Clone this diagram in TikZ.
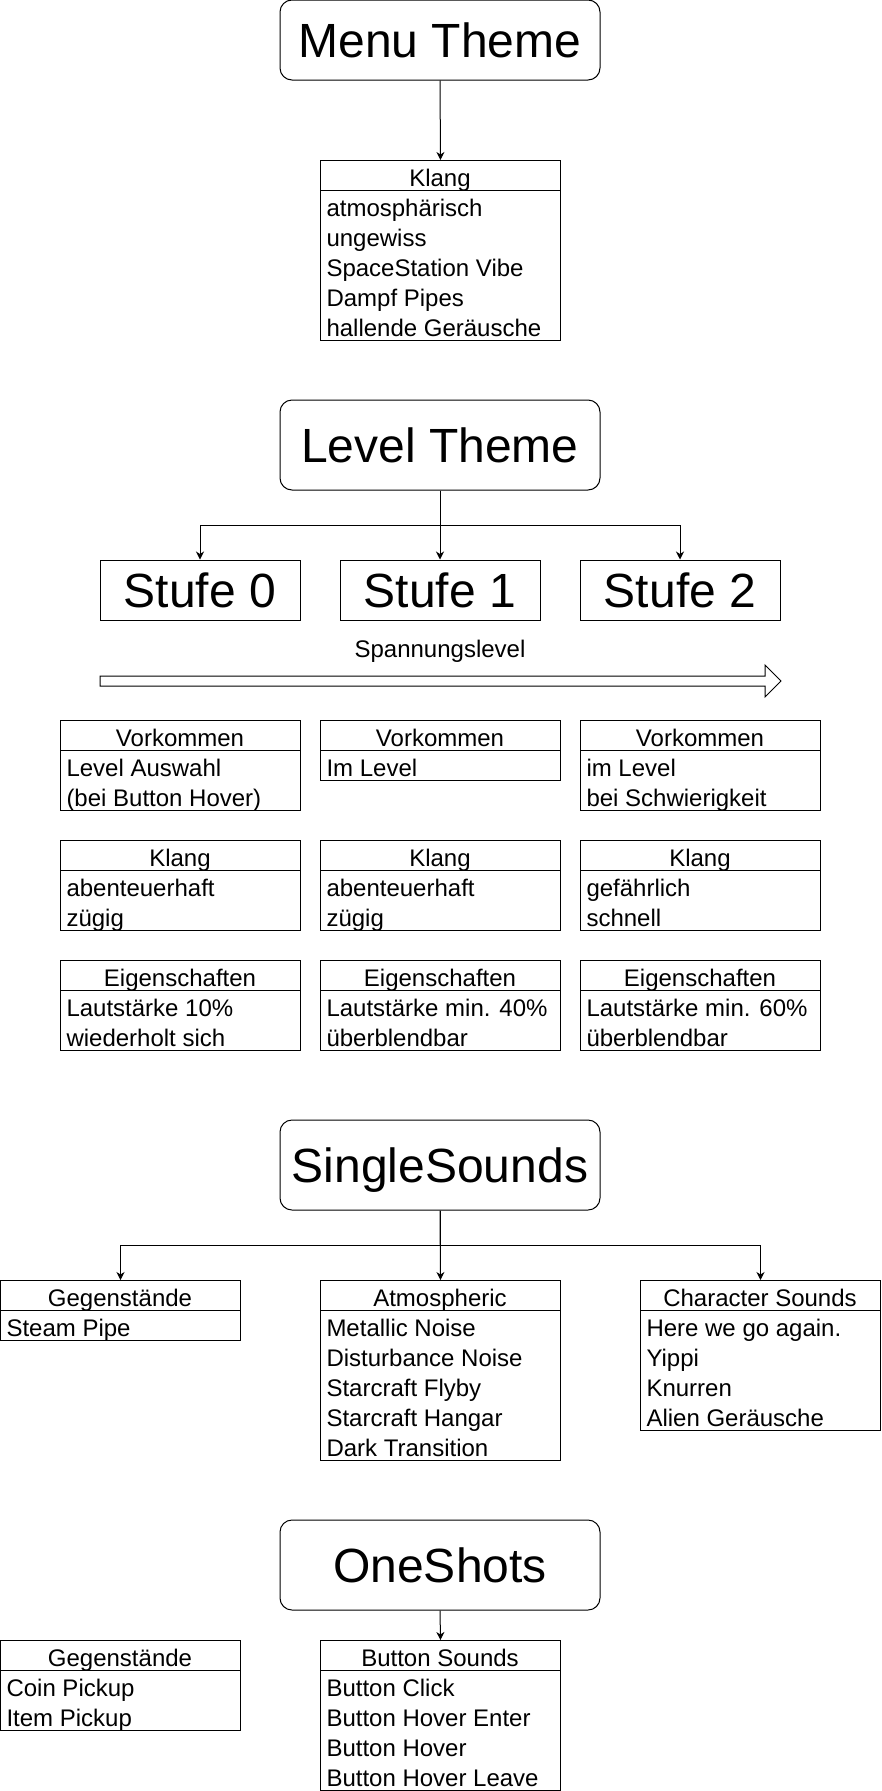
\documentclass[tikz,border=0pt]{standalone}
\usepackage{fontspec}
\setmainfont{Liberation Sans}
\usetikzlibrary{arrows.meta}
\tikzset{
 titlebox/.style={draw, rounded corners=12pt, minimum width=320pt, inner sep=0pt, text height=35pt, text depth=0pt, font=\fontsize{48}{48}\selectfont},
 stufebox/.style={draw, minimum width=200pt, minimum height=60pt, inner sep=0pt, text height=35pt, text depth=0pt, font=\fontsize{48}{48}\selectfont},
 tblframe/.style={draw, anchor=north west, inner sep=0pt},
 hdrtxt/.style={anchor=base, inner sep=0pt, font=\fontsize{24}{24}\selectfont},
 rowtxt/.style={anchor=base west, inner sep=0pt, font=\fontsize{24}{24}\selectfont},
 arr/.style={draw, -{Stealth[length=8pt,width=8pt,inset=2.5pt]}},
}
\newcommand\mytbl[7]{%
 \node[tblframe, minimum width=#4pt, minimum height=#7pt] (#1) at (#2,#3) {};
 \draw (#2,#3+30) -- (#2+#4,#3+30);
 \node[hdrtxt] (#1-h) at (#2+#4/2,#3+26) {#5};
 \foreach \rowtext [count=\ri] in {#6} {\node[rowtxt] (#1-\ri) at (#2+6,#3+30*\ri+26) {\rowtext};}
}
\begin{document}
\begin{tikzpicture}[x=1pt, y=-1pt, line width=1pt]
\useasboundingbox (0,0) rectangle (881,1791);
\fill[white] (0,0) rectangle (881,1791);

% Menu Theme
\node[titlebox, minimum height=80pt] (menu) at (440,40) {Menu Theme};
\mytbl{mklang}{320}{160}{240}{Klang}{atmosphärisch,ungewiss,SpaceStation Vibe,Dampf Pipes,hallende Geräusche}{180}
\draw[arr] (menu.south) -- (mklang.north);

% Level Theme
\node[titlebox, minimum height=90pt] (level) at (440,445) {Level Theme};
\node[stufebox] (s0) at (200,590) {Stufe 0};
\node[stufebox] (s1) at (440,590) {Stufe 1};
\node[stufebox] (s2) at (680,590) {Stufe 2};
\draw[arr] (level.south) -- ++(0,35) -| (s0.north);
\draw[arr] (level.south) -- (s1.north);
\draw[arr] (level.south) -- ++(0,35) -| (s2.north);

\node[hdrtxt] (span) at (440,657) {Spannungslevel};
\draw[line join=miter] (100,676) -- (765,676) -- (765,665) -- (781,681) -- (765,697) -- (765,686) -- (100,686) -- cycle;

\mytbl{v0}{60}{720}{240}{Vorkommen}{Level Auswahl,(bei Button Hover)}{90}
\mytbl{v1}{320}{720}{240}{Vorkommen}{Im Level}{60}
\mytbl{v2}{580}{720}{240}{Vorkommen}{im Level,bei Schwierigkeit}{90}

\mytbl{k0}{60}{840}{240}{Klang}{abenteuerhaft,zügig}{90}
\mytbl{k1}{320}{840}{240}{Klang}{abenteuerhaft,zügig}{90}
\mytbl{k2}{580}{840}{240}{Klang}{gefährlich,schnell}{90}

\mytbl{e0}{60}{960}{240}{Eigenschaften}{Lautstärke 10\%,wiederholt sich}{90}
\mytbl{e1}{320}{960}{240}{Eigenschaften}{Lautstärke min. 40\%,überblendbar}{90}
\mytbl{e2}{580}{960}{240}{Eigenschaften}{Lautstärke min. 60\%,überblendbar}{90}

% SingleSounds
\node[titlebox, minimum height=90pt] (single) at (440,1165) {SingleSounds};
\mytbl{sg}{0}{1280}{240}{Gegenstände}{Steam Pipe}{60}
\mytbl{sa}{320}{1280}{240}{Atmospheric}{Metallic Noise,Disturbance Noise,Starcraft Flyby,Starcraft Hangar,Dark Transition}{180}
\mytbl{sc}{640}{1280}{240}{Character Sounds}{Here we go again.,Yippi,Knurren,Alien Geräusche}{150}
\draw[arr] (single.south) -- ++(0,35) -| (sg.north);
\draw[arr] (single.south) -- (sa.north);
\draw[arr] (single.south) -- ++(0,35) -| (sc.north);

% OneShots
\node[titlebox, minimum height=90pt] (one) at (440,1565) {OneShots};
\mytbl{og}{0}{1640}{240}{Gegenstände}{Coin Pickup,Item Pickup}{90}
\mytbl{ob}{320}{1640}{240}{Button Sounds}{Button Click,Button Hover Enter,Button Hover,Button Hover Leave}{150}
\draw[arr] (one.south) -- (ob.north);
\end{tikzpicture}
\end{document}
